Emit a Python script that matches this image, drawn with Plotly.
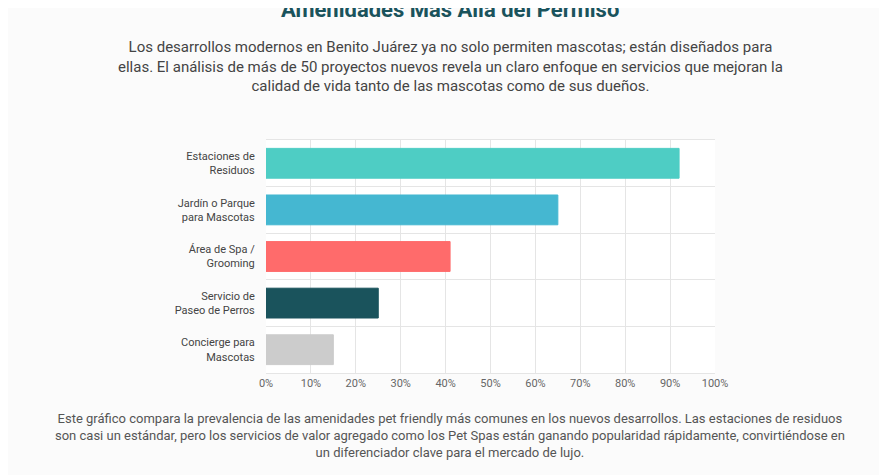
import plotly.graph_objects as go

# === DATOS ===
categorias = ["Estaciones de<br>Residuos", "Jardín o Parque<br>para Mascotas", "Área de Spa /<br>Grooming",
              "Servicio de<br>Paseo de Perros", "Concierge para<br>Mascotas"]
valores = [92, 65, 41, 25, 15]
colores = ["#4ECDC4", "#45B7D1", "#FF6B6B", "#1A535C", "#CCCCCC"]

titulo = "<b>Amenidades Más Allá del Permiso</b>"
subtitulo = ("Los desarrollos modernos en Benito Juárez ya no solo permiten mascotas; están diseñados para<br>"
             "ellas. El análisis de más de 50 proyectos nuevos revela un claro enfoque en servicios que mejoran la<br>"
             "calidad de vida tanto de las mascotas como de sus dueños.")
nota = ("Este gráfico compara la prevalencia de las amenidades pet friendly más comunes en los nuevos desarrollos. Las estaciones de residuos<br>"
        "son casi un estándar, pero los servicios de valor agregado como los Pet Spas están ganando popularidad rápidamente, convirtiéndose en<br>"
        "un diferenciador clave para el mercado de lujo.")

fig = go.Figure(go.Bar(
    x=valores, y=categorias, orientation="h",
    marker=dict(color=colores, line=dict(color=colores, width=1)),
    hoverinfo="x+y",
))

# eje auxiliar para las líneas divisorias entre categorías
fig.add_trace(go.Scatter(x=[None], y=[None], yaxis="y2", showlegend=False))

cx = (442 - 258) / 449  # centro horizontal del texto, en fracción del área del gráfico

fig.update_layout(
    width=887, height=475,
    paper_bgcolor="#FBFBFB", plot_bgcolor="white",
    font=dict(family="Roboto, sans-serif", color="#555"),
    margin=dict(l=258, r=180, t=132, b=110),
    bargap=0.36, showlegend=False,
    xaxis=dict(range=[0, 100], dtick=10, ticksuffix="%", showgrid=True, gridcolor="#E5E5E5",
               zeroline=False, showline=True, linecolor="#E5E5E5", mirror=True,
               tickfont=dict(size=11, color="#666"), fixedrange=True),
    yaxis=dict(autorange="reversed", showgrid=False, tickfont=dict(size=11, color="#444"),
               ticks="outside", ticklen=8, tickcolor="rgba(0,0,0,0)", fixedrange=True),
    yaxis2=dict(overlaying="y", range=[-0.5, 4.5], tick0=-0.5, dtick=1, showgrid=True,
                gridcolor="#E5E5E5", showticklabels=False, zeroline=False, fixedrange=True),
    annotations=[
        dict(text=titulo, x=cx, y=1, xref="paper", yref="paper", xanchor="center", yanchor="bottom",
             yshift=116, showarrow=False, font=dict(size=22, color="#1A535C")),
        dict(text=subtitulo, x=cx, y=1, xref="paper", yref="paper", xanchor="center", yanchor="bottom",
             yshift=43, showarrow=False, font=dict(size=15, color="#444")),
        dict(text=nota, x=cx, y=0, xref="paper", yref="paper", xanchor="center", yanchor="top",
             yshift=-36, showarrow=False, font=dict(size=13, color="#555")),
    ],
)

fig.write_html("out.html")
